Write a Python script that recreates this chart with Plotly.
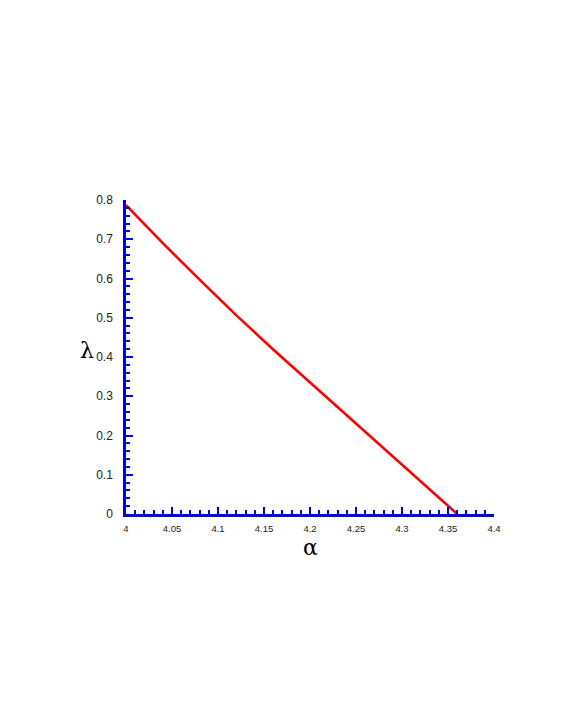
import plotly.graph_objects as go

# alpha (x) vs lambda (y)
alpha = [4.0, 4.04, 4.08, 4.12, 4.16, 4.20, 4.24, 4.28, 4.32, 4.36]
lam = [0.787, 0.690, 0.597, 0.506, 0.419, 0.335, 0.252, 0.169, 0.085, 0.0]

x_ticks = [4, 4.05, 4.1, 4.15, 4.2, 4.25, 4.3, 4.35, 4.4]
x_labels = ["4", "4.05", "4.1", "4.15", "4.2", "4.25", "4.3", "4.35", "4.4"]
y_ticks = [0, 0.1, 0.2, 0.3, 0.4, 0.5, 0.6, 0.7, 0.8]
y_labels = ["0", "0.1", "0.2", "0.3", "0.4", "0.5", "0.6", "0.7", "0.8"]

AXIS_BLUE = "#0000ee"
TICK_FONT = "Liberation Sans, Arial, sans-serif"

fig = go.Figure()
fig.add_trace(
    go.Scatter(
        x=alpha, y=lam, mode="lines",
        line=dict(color="#ff0000", width=2.6),
        showlegend=False,
    )
)

axis_common = dict(
    showline=True, linecolor=AXIS_BLUE, linewidth=2.5,
    ticks="inside", tickcolor=AXIS_BLUE, tickwidth=2, ticklen=7,
    showgrid=False, zeroline=False, mirror=False,
)

fig.update_xaxes(
    range=[4, 4.4], tickvals=x_ticks, ticktext=x_labels,
    minor=dict(dtick=0.01, tick0=4, ticks="inside", ticklen=4,
               tickcolor=AXIS_BLUE, tickwidth=2),
    ticklabelstandoff=4,
    tickfont=dict(family=TICK_FONT, size=9.5, color="#222222"),
    **axis_common,
)
fig.update_yaxes(
    range=[0, 0.8], tickvals=y_ticks, ticktext=y_labels,
    minor=dict(dtick=0.02, tick0=0, ticks="inside", ticklen=4,
               tickcolor=AXIS_BLUE, tickwidth=2),
    ticklabelstandoff=8,
    tickfont=dict(family=TICK_FONT, size=12, color="#222222"),
    **axis_common,
)

fig.add_annotation(
    text="α", xref="paper", yref="paper", x=0.5, y=-0.152,
    showarrow=False, font=dict(family="DejaVu Serif, serif", size=22, color="#000000"),
)
fig.add_annotation(
    text="λ", xref="paper", yref="paper", x=-0.13, y=0.52,
    showarrow=False, font=dict(family="DejaVu Serif, serif", size=22, color="#000000"),
)

# the page adds an 8px body margin, so the margins are trimmed to match
fig.update_layout(
    width=562, height=728,
    margin=dict(l=118, r=76, t=192, b=222),
    plot_bgcolor="white", paper_bgcolor="white",
)

fig.write_html("out.html")
